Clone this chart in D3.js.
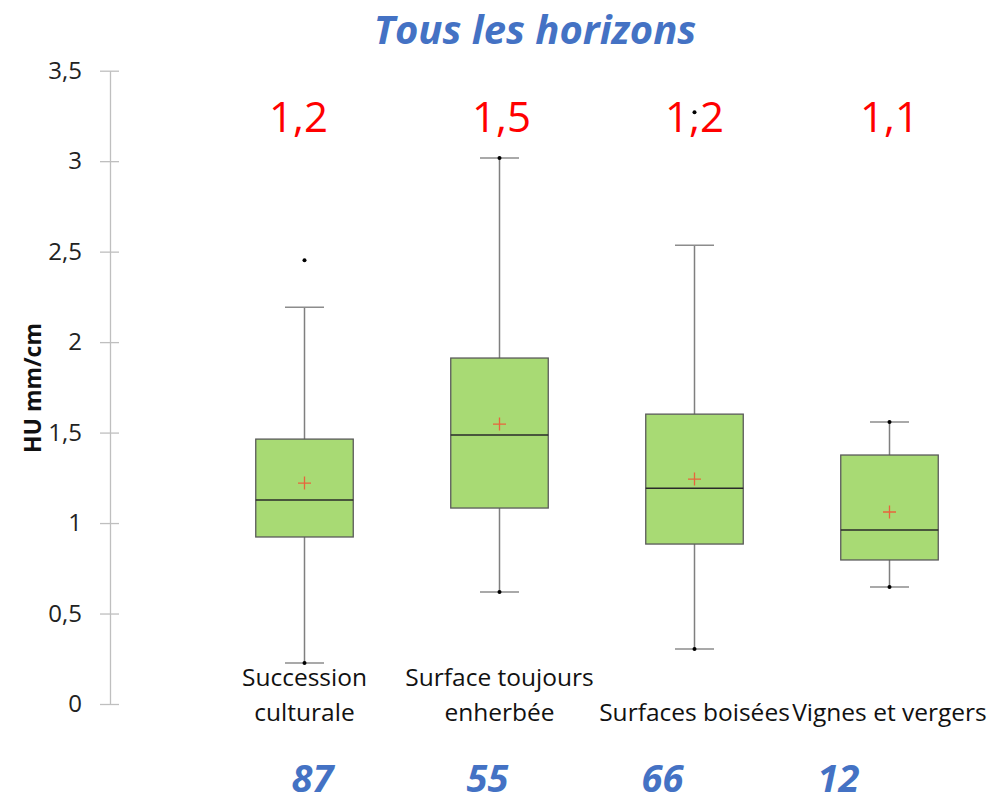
<!DOCTYPE html>
<html>
<head>
<meta charset="utf-8">
<script src="https://cdn.jsdelivr.net/npm/d3@7"></script>
<style>
  body { margin: 0; background: #fff; }
  text { font-family: "Open Sans", sans-serif; }
</style>
</head>
<body>
<svg id="chart" width="994" height="803"></svg>
<script>
// categories and box statistics (HU mm/cm)
var categories = ["Succession culturale", "Surface toujours enherbée", "Surfaces boisées", "Vignes et vergers"];
var labelLines = [["Succession", "culturale"], ["Surface toujours", "enherbée"], ["Surfaces boisées"], ["Vignes et vergers"]];
var q1s = [0.923, 1.083, 0.884, 0.796];
var medians = [1.127, 1.486, 1.193, 0.961];
var q3s = [1.464, 1.912, 1.602, 1.376];
var means = [1.221, 1.547, 1.243, 1.061];
var whiskerLow = [0.227, 0.619, 0.304, 0.646];
var whiskerHigh = [2.193, 3.017, 2.536, 1.558];
var minValues = [0.227, 0.619, 0.304, 0.646];
var maxValues = [2.453, 3.017, 3.271, 1.558];
var meanLabels = ["1,2", "1,5", "1,2", "1,1"];
var counts = ["87", "55", "66", "12"];
var yTicks = [0, 0.5, 1, 1.5, 2, 2.5, 3, 3.5];

var svg = d3.select("#chart");

var y = d3.scaleLinear().domain([0, 3.5]).range([704, 70.7]);
var x = d3.scalePoint().domain(categories).range([207, 987]).padding(0.5);
var boxW = x.step() * 0.5;
var capW = x.step() * 0.2;

// title
svg.append("text")
    .attr("x", 535).attr("y", 44)
    .attr("text-anchor", "middle")
    .style("font-size", "40px").style("font-weight", "bold").style("font-style", "italic")
    .style("fill", "#4472c4")
    .text("Tous les horizons");

// y axis
var yAxis = svg.append("g")
    .attr("transform", "translate(110,0)")
    .call(d3.axisLeft(y).tickValues(yTicks).tickSizeOuter(0)
        .tickFormat(function (d) { return String(d).replace(".", ","); }));
yAxis.select(".domain").attr("stroke", "#bfbfbf").attr("stroke-width", 1.3);
yAxis.selectAll(".tick line").attr("x1", -10).attr("x2", 9).attr("stroke", "#bfbfbf").attr("stroke-width", 1.3);
yAxis.selectAll(".tick text").attr("x", -28)
    .style("font-size", "24px").style("fill", "#222").style("font-family", "'Open Sans', sans-serif");

svg.append("text")
    .attr("transform", "translate(41,388) rotate(-90)")
    .attr("text-anchor", "middle")
    .style("font-size", "23px").style("font-weight", "bold").style("fill", "#111")
    .text("HU mm/cm");

var data = categories.map(function (c, i) {
    return { cat: c, i: i };
});

var g = svg.append("g");

// whiskers
g.selectAll("line.whisker").data(data).enter().append("line")
    .attr("x1", function (d) { return x(d.cat); })
    .attr("x2", function (d) { return x(d.cat); })
    .attr("y1", function (d) { return y(whiskerLow[d.i]); })
    .attr("y2", function (d) { return y(whiskerHigh[d.i]); })
    .attr("stroke", "#7f7f7f").attr("stroke-width", 1.5);

[whiskerLow, whiskerHigh].forEach(function (arr) {
    g.selectAll(null).data(data).enter().append("line")
        .attr("x1", function (d) { return x(d.cat) - capW / 2; })
        .attr("x2", function (d) { return x(d.cat) + capW / 2; })
        .attr("y1", function (d) { return y(arr[d.i]); })
        .attr("y2", function (d) { return y(arr[d.i]); })
        .attr("stroke", "#8c8c8c").attr("stroke-width", 1.5);
});

// boxes
g.selectAll("rect.box").data(data).enter().append("rect")
    .attr("x", function (d) { return x(d.cat) - boxW / 2; })
    .attr("y", function (d) { return y(q3s[d.i]); })
    .attr("width", boxW)
    .attr("height", function (d) { return y(q1s[d.i]) - y(q3s[d.i]); })
    .attr("fill", "#a8da74")
    .attr("stroke", "#5a5a5a").attr("stroke-width", 1.3);

// medians
g.selectAll("line.median").data(data).enter().append("line")
    .attr("x1", function (d) { return x(d.cat) - boxW / 2; })
    .attr("x2", function (d) { return x(d.cat) + boxW / 2; })
    .attr("y1", function (d) { return y(medians[d.i]); })
    .attr("y2", function (d) { return y(medians[d.i]); })
    .attr("stroke", "#2a2a2a").attr("stroke-width", 1.5);

// means (+)
g.selectAll("path.mean").data(data).enter().append("path")
    .attr("d", function (d) {
        var cx = x(d.cat), cy = y(means[d.i]);
        return "M" + (cx - 6.5) + "," + cy + "H" + (cx + 6.5) + "M" + cx + "," + (cy - 6.5) + "V" + (cy + 6.5);
    })
    .attr("stroke", "#e8643c").attr("stroke-width", 1.3);

// min / max points
[minValues, maxValues].forEach(function (arr) {
    g.selectAll(null).data(data).enter().append("circle")
        .attr("cx", function (d) { return x(d.cat); })
        .attr("cy", function (d) { return y(arr[d.i]); })
        .attr("r", 2)
        .attr("fill", "#000");
});

// category labels
var labels = svg.selectAll("text.cat").data(data).enter().append("text")
    .attr("text-anchor", "middle")
    .style("font-size", "24.5px").style("fill", "#111");
labels.each(function (d) {
    var lines = labelLines[d.i];
    var t = d3.select(this);
    lines.forEach(function (l, k) {
        t.append("tspan")
            .attr("x", x(d.cat))
            .attr("y", 721 - (lines.length - 1 - k) * 35)
            .text(l);
    });
});

// mean values in red
var meanShift = [-6, 2, 0, 0];
svg.selectAll("text.meanlab").data(data).enter().append("text")
    .attr("x", function (d) { return x(d.cat) + meanShift[d.i]; })
    .attr("y", 132)
    .attr("text-anchor", "middle")
    .style("font-size", "42px").style("fill", "#ff0000")
    .text(function (d) { return meanLabels[d.i]; });

// counts in blue (hand placed text boxes, shifted from the category centres)
var countShift = [8, -12, -32, -51];
svg.selectAll("text.count").data(data).enter().append("text")
    .attr("x", function (d) { return x(d.cat) + countShift[d.i]; })
    .attr("y", 792)
    .attr("text-anchor", "middle")
    .style("font-size", "38px").style("font-weight", "bold").style("font-style", "italic")
    .style("fill", "#4472c4")
    .text(function (d) { return counts[d.i]; });
</script>
</body>
</html>
